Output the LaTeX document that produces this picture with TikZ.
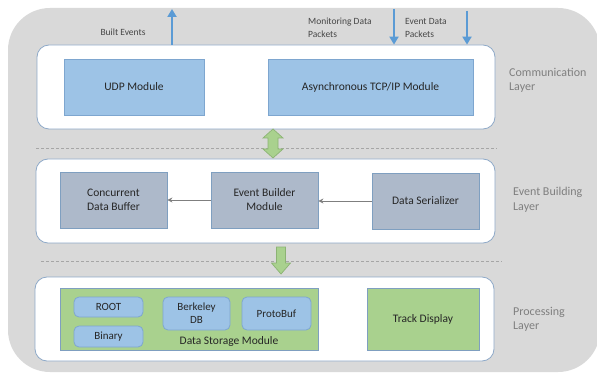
\documentclass[tikz,border=0pt]{standalone}
\usepackage{fontspec}
\setmainfont{Carlito}
\usetikzlibrary{arrows.meta}
\definecolor{bggray}{HTML}{D9D9D9}
\definecolor{layeredge}{HTML}{8EA9C8}
\definecolor{modblue}{HTML}{9DC3E6}
\definecolor{modblueedge}{HTML}{7EA6CF}
\definecolor{modgrey}{HTML}{ADB9CA}
\definecolor{modgreyedge}{HTML}{7F9FC0}
\definecolor{modgreen}{HTML}{A9D18E}
\definecolor{greenedge}{HTML}{8CB374}
\definecolor{flowblue}{HTML}{5B9BD5}
\definecolor{labelgray}{HTML}{7F7F7F}
\definecolor{dashgray}{HTML}{A6A6A6}
\definecolor{inktext}{HTML}{262626}
\tikzset{
  layerbox/.style={draw=layeredge, line width=0.8pt, fill=white, rounded corners=12pt, inner sep=0pt},
  module/.style={line width=0.8pt, inner sep=0pt, align=center, text=inktext,
    font=\fontsize{11.5}{14}\selectfont},
  bluemod/.style={module, fill=modblue, draw=modblueedge},
  greymod/.style={module, fill=modgrey, draw=modgreyedge},
  greenmod/.style={module, fill=modgreen, draw=modgreyedge},
  pill/.style={module, fill=modblue, draw=modblueedge, rounded corners=5pt,
    font=\fontsize{11}{13}\selectfont},
  layerlabel/.style={anchor=west, align=left, text=labelgray, inner sep=0pt,
    font=\fontsize{12}{14.5}\selectfont},
  flowlabel/.style={align=left, text=inktext!85, inner sep=0pt,
    font=\fontsize{9.5}{13}\selectfont},
  flowarrow/.style={draw=flowblue, line width=2.6pt, -{Triangle[width=9pt,length=8pt]}},
  innerarrow/.style={draw=labelgray, line width=0.9pt, -{Stealth[width=5pt,length=5pt]}},
  blockarrow/.style={fill=modgreen, draw=greenedge, line width=0.7pt, line join=miter},
  divider/.style={draw=dashgray, line width=0.7pt, dash pattern=on 3pt off 2pt}
}
\begin{document}
\begin{tikzpicture}[x=1pt,y=-1pt]
\useasboundingbox (0,0) rectangle (597,374);
\clip (0,0) rectangle (597,374);

% outer grey frame
\fill[bggray, rounded corners=42pt] (8,8) rectangle (600,372);

% layer dividers
\draw[divider] (36,148) -- (497,148);
\draw[divider] (41,261) -- (502,261);

% layers
\node[layerbox, minimum width=458pt, minimum height=84pt] (comm) at (266,87) {};
\node[layerbox, minimum width=459pt, minimum height=84pt] (evb) at (265.5,201) {};
\node[layerbox, minimum width=459pt, minimum height=84pt] (proc) at (264.5,319) {};

% communication layer
\node[bluemod, minimum width=140pt, minimum height=56pt] (udp) at (134,87) {UDP Module};
\node[bluemod, minimum width=205pt, minimum height=56pt] (tcp) at (370.5,87) {Asynchronous TCP/IP Module};

% event building layer
\node[greymod, minimum width=107pt, minimum height=56pt] (cdb) at (113.5,200) {Concurrent\\Data Buffer};
\node[greymod, minimum width=107pt, minimum height=56pt] (ebm) at (264.5,200) {Event Builder\\Module};
\node[greymod, minimum width=107pt, minimum height=56pt] (ser) at (425.5,201) {Data Serializer};

% processing layer
\node[greenmod, minimum width=258pt, minimum height=62pt] (dsm) at (189,319) {};
\node[greenmod, minimum width=112pt, minimum height=62pt] (track) at (423,319) {Track Display};
\node[pill, minimum width=69pt, minimum height=20pt] (root) at (108.5,307) {ROOT};
\node[pill, minimum width=69pt, minimum height=21pt] (binary) at (108.5,336.5) {Binary};
\node[pill, minimum width=67pt, minimum height=33pt] (berk) at (196.5,313.5) {Berkeley\\DB};
\node[pill, minimum width=69pt, minimum height=33pt] (proto) at (276.5,313.5) {ProtoBuf};
\node[module, inner sep=0pt] (dsmlabel) at (229,341) {Data Storage Module};

% layer names
\node[layerlabel] (commname) at (509,80.5) {Communication\\Layer};
\node[layerlabel] (evbname) at (513,200) {Event Building\\Layer};
\node[layerlabel] (procname) at (513,319.5) {Processing\\Layer};

% external data flows
\coordinate (builtout) at (172,9);
\coordinate (monin) at (394,9);
\coordinate (evtin) at (467,11);
\draw[flowarrow] (comm.north -| builtout) -- (builtout);
\draw[flowarrow] (monin) -- (monin |- comm.north);
\draw[flowarrow] (evtin) -- (evtin |- comm.north);
\node[flowlabel] (builtlabel) at (123,32) {Built Events};
\node[flowlabel, anchor=west] (monlabel) at (308,27.5) {Monitoring Data\\Packets};
\node[flowlabel, anchor=west] (evtlabel) at (405,27.5) {Event Data\\Packets};

% internal flows
\draw[innerarrow] (ebm.west) -- (cdb.east);
\draw[innerarrow] (ser.west) -- (ser.west -| ebm.east);

% block arrows between layers
\coordinate (dbl) at (273,129);
\draw[blockarrow] (dbl) -- ++(10,9) -- ++(-5,0) -- ++(0,11) -- ++(5,0) -- ++(-10,9)
  -- ++(-10,-9) -- ++(5,0) -- ++(0,-11) -- ++(-5,0) -- cycle;
\coordinate (dwn) at (281,247);
\draw[blockarrow] (dwn) ++(-4.5,0) -- ++(9,0) -- ++(0,16) -- ++(5,0) -- ++(-9.5,11)
  -- ++(-9.5,-11) -- ++(5,0) -- cycle;
\end{tikzpicture}
\end{document}
